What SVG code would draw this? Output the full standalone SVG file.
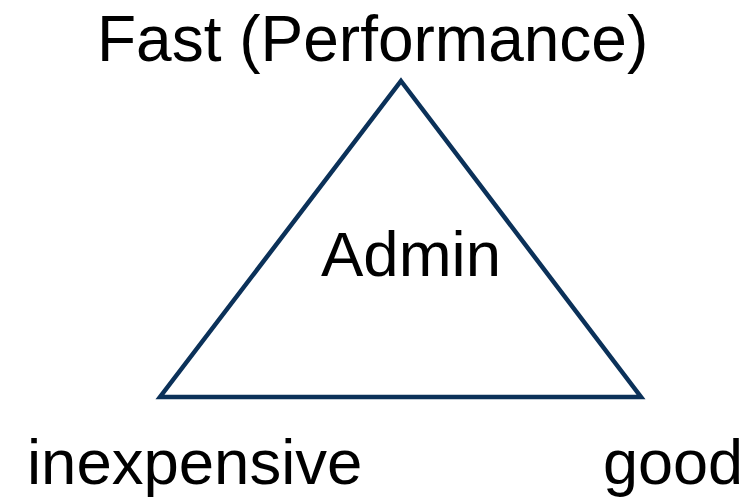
<svg xmlns="http://www.w3.org/2000/svg" width="753" height="504" viewBox="0 0 753 504">
<style>
.lbl{font-family:"Liberation Sans",Arial,sans-serif;font-size:63px;fill:#000}
.edge{fill:none;stroke:#0b3159;stroke-width:4.5;stroke-linejoin:miter}
</style>
<rect width="753" height="504" fill="#fff"/>
<g id="connectors">
<polygon class="edge" points="401,81 641,397 160,397"/>
</g>
<g id="node-fast"><text class="lbl" x="97" y="61" style="font-size:64px">Fast (Performance)</text></g>
<g id="node-admin"><text class="lbl" x="321" y="276" style="font-size:63.5px">Admin</text></g>
<g id="node-inexpensive"><text class="lbl" x="27" y="484" style="font-size:63.5px">inexpensive</text></g>
<g id="node-good"><text class="lbl" x="603" y="484">good</text></g>
</svg>
